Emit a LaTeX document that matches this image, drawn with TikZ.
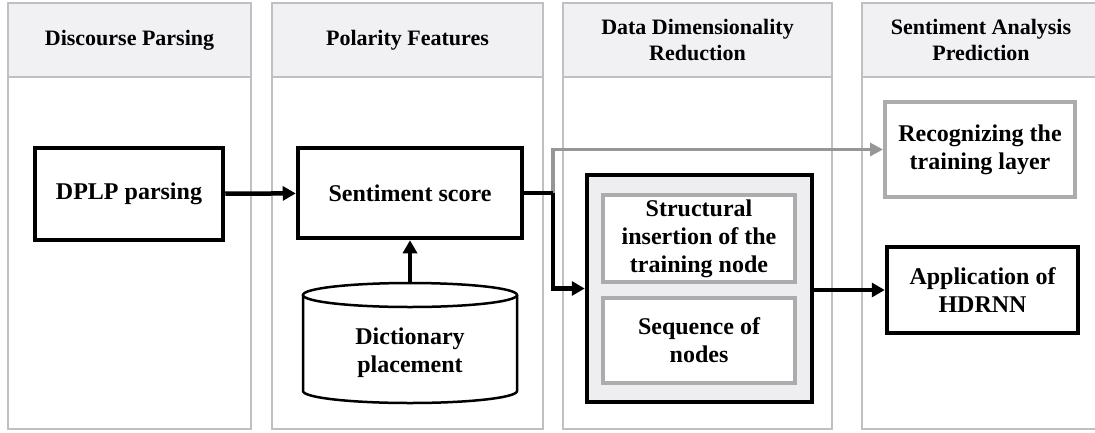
\documentclass[tikz,border=0pt]{standalone}
\usepackage{fontspec}
\setmainfont{Liberation Serif}
\usetikzlibrary{arrows.meta}
\definecolor{panelgray}{RGB}{192,192,194}
\definecolor{headfill}{RGB}{241,241,244}
\definecolor{groupfill}{RGB}{238,238,240}
\definecolor{boxgray}{RGB}{172,172,174}
\definecolor{linkgray}{RGB}{150,150,152}

\begin{document}
\begin{tikzpicture}[x=1pt,y=-1pt,
  every node/.style={align=center, inner sep=0pt, font=\bfseries\fontsize{24}{28}\selectfont},
  colbody/.style={draw=panelgray, line width=2pt, fill=white, minimum height=352pt},
  colhead/.style={draw=panelgray, line width=2pt, fill=headfill, minimum height=74pt, font=\bfseries\fontsize{22}{26}\selectfont},
  blackbox/.style={draw, line width=4.5pt, fill=white},
  graybox/.style={draw=boxgray, line width=4pt, fill=white},
  flow/.style={line width=4.5pt, -{Triangle[length=13pt,width=14pt]}},
  grayflow/.style={draw=linkgray, line width=3.5pt, -{Triangle[length=13pt,width=13pt]}}]
\useasboundingbox (0,0) rectangle (1095,432);
% columns
\node[colbody, minimum width=243pt] (body1) at (129.5,253) {};
\node[colbody, minimum width=271pt] (body2) at (407.5,253) {};
\node[colbody, minimum width=269pt] (body3) at (697.5,253) {};
\node[colbody, minimum width=238pt] (body4) at (981,253) {};
\node[colhead, minimum width=243pt] (head1) at (129.5,40) {Discourse Parsing};
\node[colhead, minimum width=271pt] (head2) at (407.5,40) {Polarity Features};
\node[colhead, minimum width=269pt] (head3) at (697.5,40) {Data Dimensionality\\Reduction};
\node[colhead, minimum width=238pt] (head4) at (981,40) {Sentiment Analysis\\Prediction};
% boxes
\node[blackbox, minimum width=188pt, minimum height=92pt] (dplp) at (129,194) {DPLP parsing};
\node[blackbox, minimum width=224pt, minimum height=90pt] (senti) at (410,193) {Sentiment score};
\draw[line width=2.5pt, fill=white] (303,295) -- (303,391) arc[start angle=180, end angle=360, x radius=107pt, y radius=12pt] -- (517,295);
\draw[line width=2.5pt, fill=white] (410,295) ellipse[x radius=107pt, y radius=12pt];
\coordinate (dtop) at (410,283);
\node (dict) at (410,353) {Dictionary\\placement};
\node[draw, line width=4.5pt, fill=groupfill, minimum width=225pt, minimum height=227pt] (group) at (699.5,288.5) {};
\node[graybox, minimum width=192pt, minimum height=87pt] (insert) at (699,238.5) {Structural\\insertion of the\\training node};
\node[graybox, minimum width=192pt, minimum height=85pt] (seq) at (699,340.5) {Sequence of\\nodes};
\node[graybox, minimum width=190pt, minimum height=95pt] (recog) at (980,149.5) {Recognizing the\\training layer};
\node[blackbox, minimum width=191pt, minimum height=86pt] (appl) at (982.5,290) {Application of\\HDRNN};
% links
\coordinate (split) at (553,193);
\draw[grayflow] (split) |- (recog.west);
\draw[flow] (dplp) -- (senti);
\draw[flow] (dtop) -- (senti);
\draw[line width=4.5pt] (senti.east) -- (split);
\draw[flow] (split) |- (group.west);
\draw[flow] (group.east |- appl.west) -- (appl.west);
\end{tikzpicture}
\end{document}
